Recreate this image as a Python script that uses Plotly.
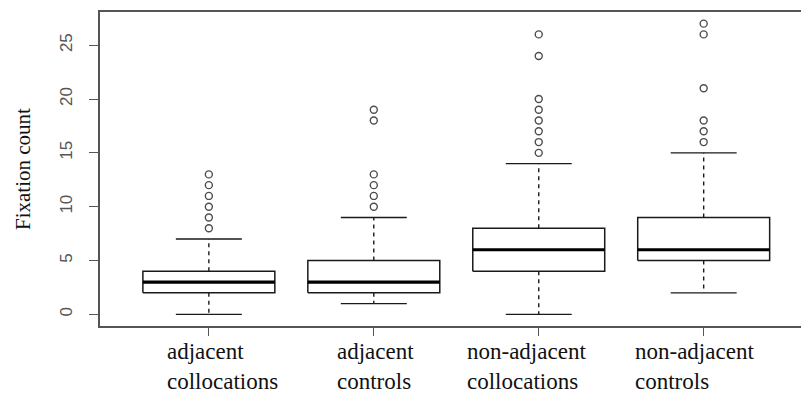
import plotly.graph_objects as go

# ---- data ----
categories = ["adjacent<br>collocations", "adjacent<br>controls",
              "non-adjacent<br>collocations", "non-adjacent<br>controls"]
q1 = [2, 2, 4, 5]
median = [3, 3, 6, 6]
q3 = [4, 5, 8, 9]
lower_whisker = [0, 1, 0, 2]
upper_whisker = [7, 9, 14, 15]
outliers = [
    [8, 9, 10, 11, 12, 13],
    [10, 11, 12, 13, 18, 19],
    [15, 16, 17, 18, 19, 20, 24, 26],
    [16, 17, 18, 21, 26, 27],
]
y_ticks = [0, 5, 10, 15, 20, 25]
y_title = "Fixation count"

# ---- style ----
half_box = 0.4
half_cap = 0.2
label_xshift = [-44, -39, -74, -71]
box_color = "#1a1a1a"
frame_color = "#555555"
serif = "Liberation Serif"

fig = go.Figure()
positions = list(range(1, len(categories) + 1))

for i, x in enumerate(positions):
    # whiskers (dashed)
    fig.add_trace(go.Scatter(
        x=[x, x, None, x, x],
        y=[q3[i], upper_whisker[i], None, q1[i], lower_whisker[i]],
        mode="lines", line=dict(color=box_color, width=1.4, dash="4px,4px"),
        hoverinfo="skip", showlegend=False))
    # caps
    fig.add_trace(go.Scatter(
        x=[x - half_cap, x + half_cap, None, x - half_cap, x + half_cap],
        y=[upper_whisker[i], upper_whisker[i], None, lower_whisker[i], lower_whisker[i]],
        mode="lines", line=dict(color=box_color, width=1.4),
        hoverinfo="skip", showlegend=False))
    # box
    fig.add_trace(go.Scatter(
        x=[x - half_box, x + half_box, x + half_box, x - half_box, x - half_box],
        y=[q1[i], q1[i], q3[i], q3[i], q1[i]],
        mode="lines", line=dict(color=box_color, width=1.5),
        fill="toself", fillcolor="white",
        hoverinfo="skip", showlegend=False))
    # median
    fig.add_trace(go.Scatter(
        x=[x - half_box, x + half_box], y=[median[i], median[i]],
        mode="lines", line=dict(color="#000000", width=3.2),
        hoverinfo="skip", showlegend=False))
    # outliers
    fig.add_trace(go.Scatter(
        x=[x] * len(outliers[i]), y=outliers[i],
        mode="markers",
        marker=dict(symbol="circle-open", size=7, color="#4d4d4d",
                    line=dict(width=1.4, color="#4d4d4d")),
        hoverinfo="skip", showlegend=False))

for i, x in enumerate(positions):
    fig.add_annotation(
        x=x, xref="x", y=0, yref="paper", yshift=-11,
        text=categories[i], showarrow=False,
        xanchor="left", yanchor="top", align="left", xshift=label_xshift[i],
        font=dict(family=serif, size=23, color="#111111"))

fig.update_layout(
    width=801, height=396,
    margin=dict(l=100, r=0, t=12, b=70),
    paper_bgcolor="white", plot_bgcolor="white",
    xaxis=dict(range=[0.34, 4.59], tickmode="array", tickvals=positions, ticktext=[""] * 4,
               showgrid=False, zeroline=False,
               showline=True, linecolor=frame_color, linewidth=1.5, mirror=True,
               ticks="outside", ticklen=8, tickcolor=frame_color, tickwidth=1.2),
    yaxis=dict(range=[-1.08, 28.08], tickmode="array", tickvals=y_ticks,
               ticktext=[str(v) for v in y_ticks], tickangle=-90,
               showgrid=False, zeroline=False,
               showline=True, linecolor=frame_color, linewidth=1.5,
               ticks="outside", ticklen=9, tickcolor=frame_color, tickwidth=1.2,
               ticklabelstandoff=10,
               tickfont=dict(family="Liberation Sans", size=17, color="#555555"),
               title=dict(text=y_title, standoff=21,
                          font=dict(family=serif, size=21, color="#111111"))),
)

fig.write_html("out.html")
